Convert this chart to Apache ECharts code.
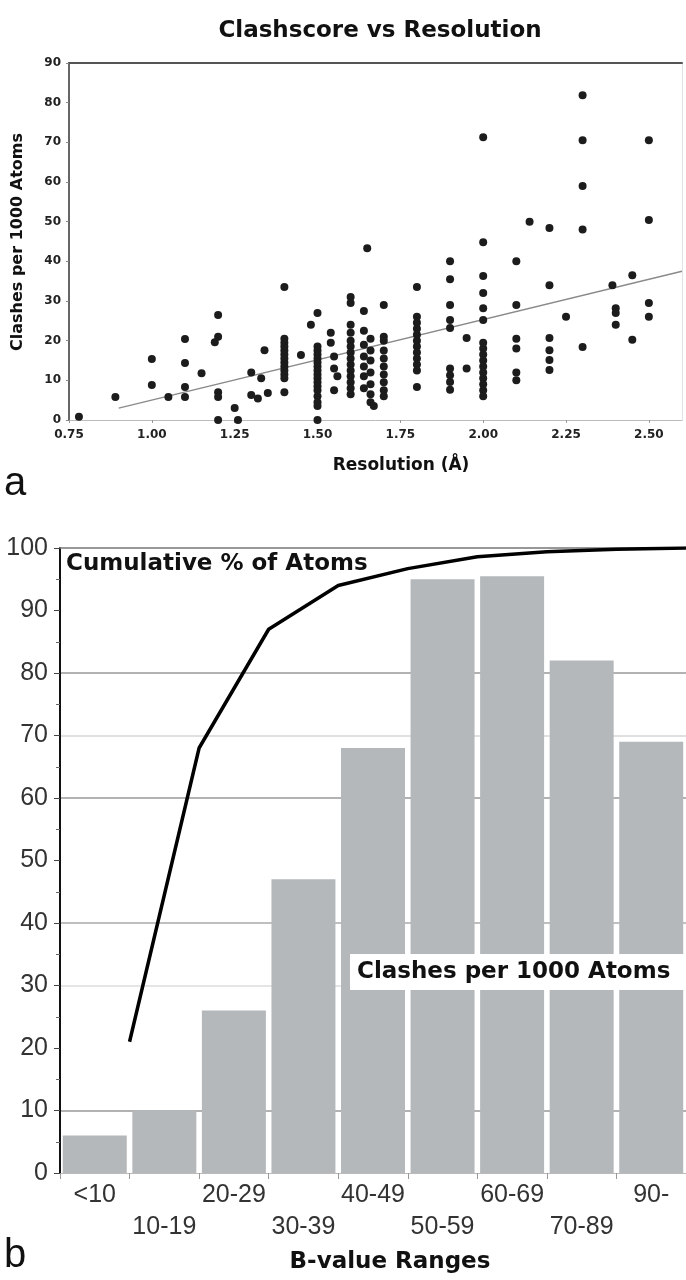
<!DOCTYPE html>
<html>
<head>
<meta charset="utf-8">
<title>Clashscore vs Resolution</title>
<script src="https://cdn.jsdelivr.net/npm/echarts@6.0.0/dist/echarts.min.js"></script>
<style>
  html, body { margin: 0; padding: 0; background: #fff; overflow: hidden; }
  #chart { width: 686px; height: 1280px; }
</style>
</head>
<body>
<div id="chart"></div>
<script>
// panel a: [resolution (A), clashes per 1000 atoms]
const clashPoints = [
  [0.78, 0.8], [0.89, 5.8],
  [1.00, 15.4], [1.00, 8.8], [1.05, 5.8],
  [1.10, 20.4], [1.10, 14.4], [1.10, 8.3], [1.10, 5.8], [1.15, 11.8],
  [1.20, 26.5], [1.20, 21], [1.19, 19.6], [1.20, 7], [1.20, 5.8], [1.20, 0],
  [1.25, 3], [1.26, 0], [1.30, 12], [1.30, 6.3], [1.32, 5.4], [1.33, 10.5], [1.34, 17.6], [1.35, 6.8],
  [1.40, 33.5], [1.40, 20.5], [1.40, 19.5], [1.40, 18.5], [1.40, 17.5], [1.40, 16.5], [1.40, 15.5],
  [1.40, 14.5], [1.40, 13.5], [1.40, 12.5], [1.40, 11.5], [1.40, 10.5], [1.40, 7],
  [1.45, 16.4], [1.48, 24],
  [1.50, 27], [1.50, 18.5], [1.50, 17.5], [1.50, 16.5], [1.50, 15.5], [1.50, 14.5], [1.50, 13.5],
  [1.50, 12.5], [1.50, 11.5], [1.50, 10.5], [1.50, 9.5], [1.50, 8.5], [1.50, 7.5], [1.50, 6],
  [1.50, 4.5], [1.50, 3.5], [1.50, 0],
  [1.54, 22], [1.54, 19.5], [1.55, 16], [1.55, 13], [1.56, 11], [1.55, 7.5],
  [1.60, 31], [1.60, 29.5], [1.60, 24], [1.60, 22], [1.60, 20], [1.60, 18.5], [1.60, 17],
  [1.60, 15.5], [1.60, 14], [1.60, 12.5], [1.60, 11], [1.60, 9.5], [1.60, 8], [1.60, 6.5],
  [1.65, 43.3], [1.64, 27.5], [1.64, 22.5], [1.64, 19], [1.64, 16], [1.64, 13.5], [1.64, 11], [1.64, 8],
  [1.66, 20.5], [1.66, 17.5], [1.66, 15], [1.66, 12], [1.66, 9], [1.66, 6.5], [1.66, 4.5], [1.67, 3.5],
  [1.70, 29], [1.70, 21], [1.70, 20], [1.70, 17.5], [1.70, 15.5], [1.70, 13.5], [1.70, 11.5],
  [1.70, 9.5], [1.70, 7.5], [1.70, 6],
  [1.80, 33.5], [1.80, 26], [1.80, 24.5], [1.80, 23], [1.80, 21.5], [1.80, 20], [1.80, 18.5],
  [1.80, 17], [1.80, 15.5], [1.80, 14], [1.80, 12.5], [1.80, 8.3],
  [1.90, 40], [1.90, 35.5], [1.90, 29], [1.90, 25.2], [1.90, 23.2], [1.90, 13], [1.90, 11.3],
  [1.90, 9.6], [1.90, 7.6], [1.95, 20.7], [1.95, 13],
  [2.00, 71.3], [2.00, 44.8], [2.00, 36.3], [2.00, 32], [2.00, 28.2], [2.00, 25.2], [2.00, 19.5],
  [2.00, 18], [2.00, 16.5], [2.00, 15], [2.00, 13.5], [2.00, 12], [2.00, 10.5], [2.00, 9], [2.00, 7.5], [2.00, 6],
  [2.10, 40], [2.10, 29], [2.10, 20.5], [2.10, 18], [2.10, 12], [2.10, 10], [2.14, 50],
  [2.20, 48.4], [2.20, 34], [2.20, 20.7], [2.20, 17.6], [2.20, 15.1], [2.20, 12.6], [2.25, 26],
  [2.30, 81.9], [2.30, 70.5], [2.30, 59], [2.30, 48], [2.30, 18.4],
  [2.39, 34], [2.40, 28.2], [2.40, 27], [2.40, 24], [2.45, 36.5], [2.45, 20.2],
  [2.50, 70.5], [2.50, 50.4], [2.50, 29.5], [2.50, 26]
];
const fitLine = [[0.9, 3.0], [2.6, 37.5]];

// panel b
const bRanges = ['<10', '10-19', '20-29', '30-39', '40-49', '50-59', '60-69', '70-89', '90-'];
const clashesPer1000 = [6, 10, 26, 47, 68, 95, 95.5, 82, 69];
const cumulativeAtoms = [21, 68, 87, 94, 96.7, 98.6, 99.4, 99.8, 100]; // at upper edge of each range

const FONT = 'DejaVu Sans';
const chart = echarts.init(document.getElementById('chart'));

const noAxisBits = { axisTick: { show: false }, axisLabel: { show: false }, splitLine: { show: false } };

chart.setOption({
  animation: false,
  backgroundColor: '#fff',
  grid: [
    { left: 69, top: 63, width: 613, height: 357 },
    { left: 60, top: 548, width: 634, height: 625 }
  ],
  xAxis: [
    {
      gridIndex: 0, type: 'value', min: 0.75, max: 2.6, interval: 0.25,
      axisLine: { onZero: false, lineStyle: { color: '#bbb', width: 1 } },
      axisTick: { show: true, length: 3, lineStyle: { color: '#999' } },
      axisLabel: {
        fontFamily: FONT, fontWeight: 'bold', fontSize: 12, color: '#222', margin: 9,
        showMaxLabel: false, formatter: v => v.toFixed(2)
      },
      splitLine: { show: false }
    },
    Object.assign({
      gridIndex: 0, type: 'value', position: 'top', min: 0.75, max: 2.6,
      axisLine: { show: true, onZero: false, lineStyle: { color: '#555', width: 2 } }
    }, noAxisBits),
    {
      gridIndex: 1, type: 'category', data: bRanges,
      axisLine: { onZero: false, lineStyle: { color: '#bbb', width: 1 } },
      axisTick: { show: true, length: 6, lineStyle: { color: '#999' } },
      axisLabel: {
        interval: 0, fontFamily: 'Liberation Sans', fontSize: 25, color: '#333',
        margin: 6, lineHeight: 32,
        formatter: (v, i) => (i % 2 ? '\n' + v : v)
      },
      splitLine: { show: false }
    },
    Object.assign({
      gridIndex: 1, type: 'value', position: 'top', min: 0, max: 9,
      axisLine: { show: true, onZero: false, lineStyle: { color: '#777', width: 1.5 } }
    }, noAxisBits)
  ],
  yAxis: [
    {
      gridIndex: 0, type: 'value', min: 0, max: 90, interval: 10,
      axisLine: { show: true, onZero: false, lineStyle: { color: '#666', width: 2 } },
      axisTick: { show: true, length: 3, lineStyle: { color: '#888' } },
      axisLabel: { fontFamily: FONT, fontWeight: 'bold', fontSize: 12, color: '#222', margin: 8 },
      splitLine: { show: false }
    },
    Object.assign({
      gridIndex: 0, type: 'value', position: 'right', min: 0, max: 90,
      axisLine: { show: true, onZero: false, lineStyle: { color: '#e2e2e2', width: 1 } }
    }, noAxisBits),
    {
      gridIndex: 1, type: 'value', min: 0, max: 100, interval: 10,
      axisLine: { show: true, onZero: false, lineStyle: { color: '#111', width: 2 } },
      axisTick: { show: true, length: 6, lineStyle: { color: '#444' } },
      minorTick: { show: true, splitNumber: 2, length: 4, lineStyle: { color: '#666' } },
      axisLabel: { fontFamily: 'Liberation Sans', fontSize: 25, color: '#333', margin: 12 },
      splitLine: {
        show: true,
        lineStyle: {
          width: 1.5,
          color: ['rgba(0,0,0,0)', '#999', 'rgba(0,0,0,0)', '#dcdcdc', '#aaa', 'rgba(0,0,0,0)',
                  '#999', '#d6d6d6', '#999', 'rgba(0,0,0,0)', 'rgba(0,0,0,0)']
        }
      }
    }
  ],
  series: [
    {
      type: 'line', xAxisIndex: 0, yAxisIndex: 0, data: fitLine, symbol: 'none', z: 1,
      lineStyle: { color: '#8a8a8a', width: 1.3 }
    },
    {
      type: 'scatter', xAxisIndex: 0, yAxisIndex: 0, data: clashPoints,
      symbolSize: 8, itemStyle: { color: '#1c1c1c', opacity: 1 }, z: 3
    },
    {
      type: 'bar', xAxisIndex: 2, yAxisIndex: 2, data: clashesPer1000,
      barCategoryGap: '8%', itemStyle: { color: '#b5b8bb' }, z: 2
    },
    {
      type: 'line', xAxisIndex: 3, yAxisIndex: 2, symbol: 'none', z: 5,
      data: cumulativeAtoms.map((v, i) => [i + 1, v]),
      lineStyle: { color: '#000', width: 3.5 }
    }
  ],
  graphic: [
    {
      type: 'text', x: 380, y: 31, z: 10,
      style: { text: 'Clashscore vs Resolution', font: 'bold 23px "DejaVu Sans"', fill: '#111',
               align: 'center', textAlign: 'center', verticalAlign: 'middle', textVerticalAlign: 'middle' }
    },
    {
      type: 'text', x: 18, y: 242, rotation: Math.PI / 2, z: 10,
      style: { text: 'Clashes per 1000 Atoms', font: 'bold 16px "DejaVu Sans"', fill: '#111',
               align: 'center', textAlign: 'center', verticalAlign: 'middle', textVerticalAlign: 'middle' }
    },
    {
      type: 'text', x: 401, y: 466, z: 10,
      style: { text: 'Resolution (Å)', font: 'bold 17px "DejaVu Sans"', fill: '#111',
               align: 'center', textAlign: 'center', verticalAlign: 'middle', textVerticalAlign: 'middle' }
    },
    {
      type: 'text', x: 4, y: 484, z: 10,
      style: { text: 'a', font: '40px "Liberation Sans"', fill: '#111',
               align: 'left', textAlign: 'left', verticalAlign: 'middle', textVerticalAlign: 'middle' }
    },
    {
      type: 'text', x: 66, y: 564, z: 10,
      style: { text: 'Cumulative % of Atoms', font: 'bold 23px "DejaVu Sans"', fill: '#111',
               align: 'left', textAlign: 'left', verticalAlign: 'middle', textVerticalAlign: 'middle' }
    },
    {
      type: 'rect', z: 10, shape: { x: 350, y: 954, width: 340, height: 36 }, style: { fill: '#fff' }
    },
    {
      type: 'text', x: 357, y: 972, z: 11,
      style: { text: 'Clashes per 1000 Atoms', font: 'bold 23px "DejaVu Sans"', fill: '#111',
               align: 'left', textAlign: 'left', verticalAlign: 'middle', textVerticalAlign: 'middle' }
    },
    {
      type: 'text', x: 390, y: 1262, z: 10,
      style: { text: 'B-value Ranges', font: 'bold 23px "DejaVu Sans"', fill: '#111',
               align: 'center', textAlign: 'center', verticalAlign: 'middle', textVerticalAlign: 'middle' }
    },
    {
      type: 'text', x: 4, y: 1256, z: 10,
      style: { text: 'b', font: '40px "Liberation Sans"', fill: '#111',
               align: 'left', textAlign: 'left', verticalAlign: 'middle', textVerticalAlign: 'middle' }
    }
  ]
});
</script>
</body>
</html>
